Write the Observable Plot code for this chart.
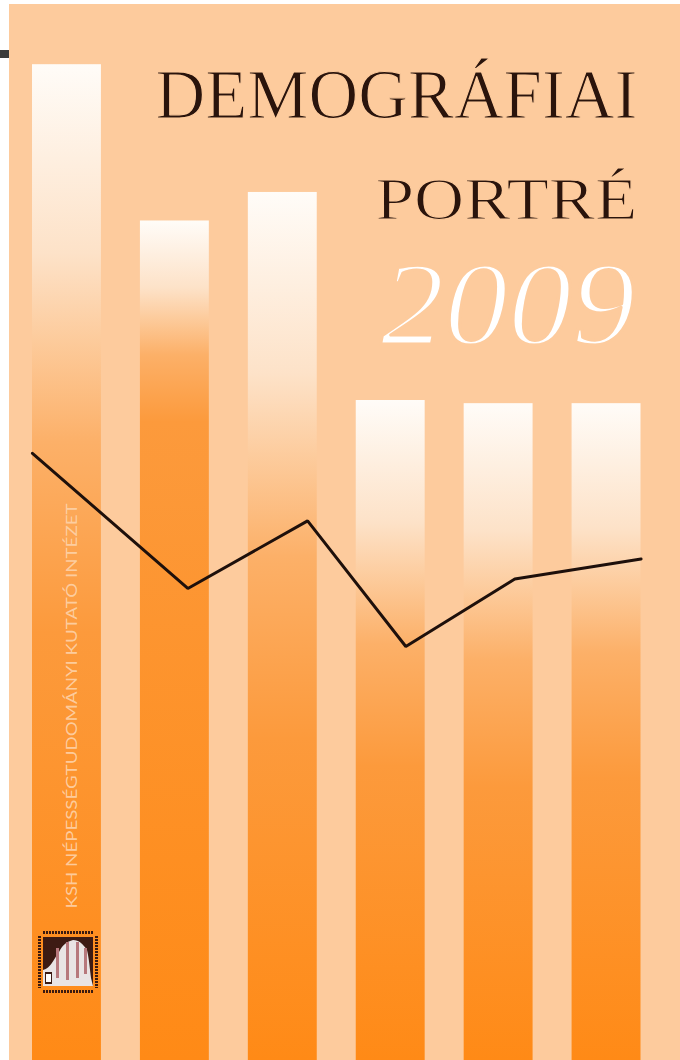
<!DOCTYPE html>
<html>
<head>
<meta charset="utf-8">
<script src="https://cdn.jsdelivr.net/npm/d3@7"></script>
<script src="https://cdn.jsdelivr.net/npm/@observablehq/plot@0.6"></script>
<style>
html, body { margin: 0; padding: 0; background: #ffffff; }
#page { position: relative; width: 680px; height: 1060px; overflow: hidden; background: #ffffff; }
#chart { position: absolute; left: 9px; top: 4px; }
#tab { position: absolute; left: 0; top: 50px; width: 9px; height: 8px; background: #3a3a3a; }
#logo { position: absolute; left: 37px; top: 930px; width: 62px; height: 64px; }
</style>
</head>
<body>
<div id="page">
  <div id="tab"></div>
  <div id="chart"></div>
  <div id="logo">
    <svg width="62" height="64" viewBox="0 0 62 64">
      <line x1="6" y1="2.5" x2="56" y2="2.5" stroke="#3b1a10" stroke-width="3" stroke-dasharray="2 1"/>
      <line x1="6" y1="61.5" x2="56" y2="61.5" stroke="#3b1a10" stroke-width="3" stroke-dasharray="2 1"/>
      <line x1="2.5" y1="6" x2="2.5" y2="58" stroke="#3b1a10" stroke-width="3" stroke-dasharray="2 1"/>
      <line x1="59.5" y1="6" x2="59.5" y2="58" stroke="#3b1a10" stroke-width="3" stroke-dasharray="2 1"/>
      <rect x="6" y="7" width="50" height="49" fill="#3d1b13"/>
      <path d="M6,56 L6,40 C14,38 16,30 22,22 C26,14 30,12 36,10 C42,10 46,14 50,20 C52,28 53,40 54,48 L56,56 Z" fill="#e9e4e4"/>
      <rect x="19" y="18" width="3" height="30" fill="#b7787c"/>
      <rect x="29" y="12" width="3" height="38" fill="#b7787c"/>
      <rect x="39" y="12" width="3" height="36" fill="#b7787c"/>
      <rect x="47" y="18" width="3" height="26" fill="#b7787c"/>
      <rect x="8" y="42" width="7" height="12" fill="#3d1b13"/>
      <rect x="9" y="44" width="5" height="8" fill="#ffffff"/>
    </svg>
  </div>
</div>
<script>
// ---- data ----
const barSlots = [0, 1, 2, 3, 4, 5];
const barValues = [94.3, 79.5, 82.2, 62.5, 62.2, 62.2];
const linePositions = [0.18, 1.62, 2.73, 3.64, 4.65, 5.82];
const lineValues = [57.5, 44.7, 51.1, 39.2, 45.6, 47.5];
const titleLine1 = "DEMOGRÁFIAI";
const titleLine2 = "PORTRÉ";
const yearLabel = "2009";
const publisher = "KSH NÉPESSÉGTUDOMÁNYI KUTATÓ INTÉZET";

// ---- style config ----
const gradientMid = [0.38, 0.16, 0.42, 0.37, 0.39, 0.38];
const W = 671, H = 1056;
const BG = "#fdcb9d";

const bars = barSlots.map((s, i) => ({ slot: s, value: barValues[i], fill: `url(#barGrad${i})` }));
const line = linePositions.map((p, i) => ({ pos: p, value: lineValues[i] }));

function gradientDefs() {
  const ns = "http://www.w3.org/2000/svg";
  const defs = document.createElementNS(ns, "defs");
  gradientMid.forEach((m, i) => {
    const g = document.createElementNS(ns, "linearGradient");
    g.setAttribute("id", `barGrad${i}`);
    g.setAttribute("x1", "0"); g.setAttribute("y1", "0");
    g.setAttribute("x2", "0"); g.setAttribute("y2", "1");
    const stops = [
      [0, "#fffcf8"],
      [m * 0.5, "#fde2c8"],
      [m, "#fcb068"],
      [Math.min(m * 1.5, 0.9), "#fc9a3c"],
      [1, "#ff8a16"]
    ];
    for (const [o, c] of stops) {
      const s = document.createElementNS(ns, "stop");
      s.setAttribute("offset", o);
      s.setAttribute("stop-color", c);
      g.appendChild(s);
    }
    defs.appendChild(g);
  });
  return defs;
}

const chart = Plot.plot({
  width: W,
  height: H,
  marginTop: 0,
  marginBottom: 0,
  marginLeft: 3.5,
  marginRight: 20,
  x: { domain: [0, 6], axis: null },
  y: { domain: [0, 100], axis: null },
  color: { type: "identity" },
  style: { background: BG, overflow: "visible" },
  marks: [
    gradientDefs,
    Plot.rectY(bars, { x: "slot", interval: 1, y: "value", fill: "fill", insetLeft: 19.5, insetRight: 19.5 }),
    Plot.line(line, { x: "pos", y: "value", stroke: "#1e100b", strokeWidth: 3, strokeLinejoin: "miter" }),
    Plot.text([titleLine1], {
      text: d => d, frameAnchor: "top-right", dx: -23, dy: 113, lineAnchor: "bottom", textAnchor: "end",
      fontFamily: "Liberation Serif", fontSize: 70, fill: "#2a140c",
      stroke: BG, strokeWidth: 1.2, paintOrder: "fill", className: "t-title1"
    }),
    Plot.text([titleLine2], {
      text: d => d, frameAnchor: "top-right", dx: -23, dy: 214, lineAnchor: "bottom", textAnchor: "end",
      fontFamily: "Liberation Serif", fontSize: 60, fill: "#2a140c",
      stroke: BG, strokeWidth: 1.2, paintOrder: "fill", className: "t-title2"
    }),
    Plot.text([yearLabel], {
      text: d => d, frameAnchor: "top-right", dx: -25, dy: 339, lineAnchor: "bottom", textAnchor: "end",
      fontFamily: "Liberation Serif", fontStyle: "italic", fontSize: 118, fill: "#ffffff",
      stroke: BG, strokeWidth: 3, paintOrder: "fill", className: "t-year"
    }),
    Plot.text([publisher], {
      text: d => d, frameAnchor: "bottom-left", dx: 63.5, dy: -152, rotate: -90, lineAnchor: "bottom", textAnchor: "start",
      fontFamily: "Lato", fontSize: 15, fill: "#fdd3ab", fillOpacity: 0.9, className: "t-pub"
    })
  ]
});

function fitText(cls, len) {
  chart.querySelectorAll(`.${cls} text`).forEach(t => {
    t.setAttribute("textLength", len);
    t.setAttribute("lengthAdjust", "spacingAndGlyphs");
  });
}
fitText("t-title1", 482);
fitText("t-title2", 262);
fitText("t-year", 255);
fitText("t-pub", 405);

document.getElementById("chart").appendChild(chart);
</script>
</body>
</html>
